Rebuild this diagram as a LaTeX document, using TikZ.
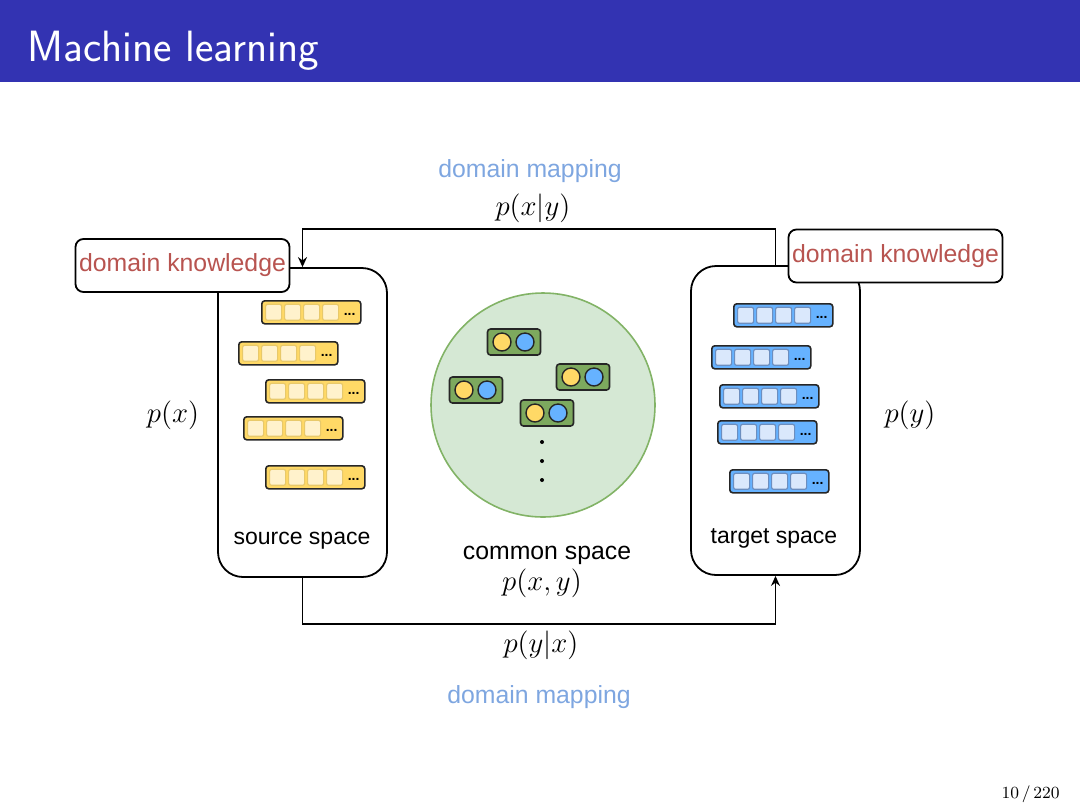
\documentclass[tikz,border=0pt]{standalone}
\usepackage{fontspec}
\usepackage{amsmath}
\newfontfamily\arial{Liberation Sans}
\usetikzlibrary{positioning}
\usetikzlibrary{arrows.meta}
\definecolor{beamerblue}{RGB}{51,51,178}
\definecolor{knowred}{HTML}{B85450}
\definecolor{mapblue}{HTML}{7EA6E0}
\definecolor{commonfill}{HTML}{D5E8D4}
\definecolor{commondraw}{HTML}{82B366}
\definecolor{pairgreen}{HTML}{7DA95E}
\definecolor{tokyellow}{HTML}{FFD966}
\definecolor{sqyellow}{HTML}{FFF2CC}
\definecolor{sqyellowdraw}{HTML}{E8C96A}
\definecolor{tokblue}{HTML}{66B2FF}
\definecolor{sqblue}{HTML}{DAE8FC}
\definecolor{sqbluedraw}{HTML}{6C8EBF}
\tikzset {
  % one unit = one pixel of the slide
  x=0.5pt, y=-0.5pt,
  % the two spaces
  space/.style={draw, line width=0.9pt, rounded corners=12.5pt, minimum width=84.5pt, minimum height=154.5pt},
  know/.style={draw, fill=white, line width=0.9pt, rounded corners=4pt, minimum width=107pt, minimum height=26.5pt,
    inner sep=0pt, text=knowred, font=\arial\fontsize{12.4}{14}\selectfont},
  lbl/.style={font=\arial\fontsize{11.5}{13}\selectfont},
  biglbl/.style={font=\arial\fontsize{12.4}{14}\selectfont},
  maplbl/.style={biglbl, text=mapblue},
  prob/.style={font=\fontsize{13.8}{16}\selectfont},
  link/.style={draw, line width=0.75pt},
  % token bars
  bar/.style={draw=black!85, line width=0.8pt, rounded corners=1.5pt, minimum width=49.5pt, minimum height=11.5pt, inner sep=0pt},
  ybar/.style={fill=tokyellow},
  bbar/.style={fill=tokblue},
  ysq/.style={draw=sqyellowdraw, fill=sqyellow, line width=0.6pt, rounded corners=1pt, minimum size=8pt, inner sep=0pt},
  bsq/.style={draw=sqbluedraw, fill=sqblue, line width=0.6pt, rounded corners=1pt, minimum size=8pt, inner sep=0pt},
  dots/.style={inner sep=0pt, font=\arial\bfseries\fontsize{7}{7}\selectfont},
  % pairs in the common space
  pairbox/.style={draw=black!85, fill=pairgreen, line width=0.8pt, rounded corners=1.5pt, minimum width=26.5pt, minimum height=13pt, inner sep=0pt},
  ycirc/.style={circle, draw=black!85, fill=tokyellow, line width=0.7pt, minimum size=9pt, inner sep=0pt},
  bcirc/.style={circle, draw=black!85, fill=tokblue, line width=0.7pt, minimum size=9pt, inner sep=0pt},
}
% token bar: name, left, top, y/b
\newcommand{\tokbar}[4]{
  \node[bar, #4bar, anchor=north west] (#1) at (#2,#3) {};
  \foreach \i in {0,...,3}
    \node[#4sq, anchor=west] at ([xshift={2pt+\i*9.5pt}]#1.west) {};
  \node[dots] at ([xshift=-6pt, yshift=-1pt]#1.east) {...};
}
% pair of circles: name, centre x, centre y
\newcommand{\pairnode}[3]{
  \node[pairbox] (#1) at (#2,#3) {};
  \node[ycirc] at ([xshift=-6pt]#1.center) {};
  \node[bcirc] at ([xshift=5.5pt]#1.center) {};
}

\begin{document}
\begin{tikzpicture}
  \useasboundingbox (0,0) rectangle (1080,810);
  % title bar
  \fill[beamerblue] (0,0) rectangle (1080,82);
  \node[anchor=base west, text=white, inner sep=0pt, font=\sffamily\fontsize{21.9}{26}\selectfont] (title) at (27,61) {Machine learning};
  \node[anchor=base east, inner sep=0pt, font=\fontsize{8.5}{10}\selectfont] (page) at (1060,798) {10\,/\,220};

  % spaces
  \node[space] (src) at (302.5,422.5) {};
  \node[space] (tgt) at (775.5,420.5) {};
  \node[lbl] (srclbl) at (302,541) {source space};
  \node[lbl] (tgtlbl) at (774,538) {target space};

  % common space
  \node[circle, draw=commondraw, fill=commonfill, line width=0.8pt, minimum size=112pt] (common) at (543,405) {};
  \pairnode{p1}{514}{342}
  \pairnode{p2}{583}{377}
  \pairnode{p3}{476}{390}
  \pairnode{p4}{547}{413}
  \foreach \y in {442,461,480}
    \fill (542,\y) circle (1pt);
  \node[biglbl] (comlbl) at (547,555) {common space};
  \node[prob] (pxy) at (542,583) {$p(x,y)$};

  % source tokens
  \tokbar{s1}{261}{300}{y}
  \tokbar{s2}{238}{341}{y}
  \tokbar{s3}{265}{379}{y}
  \tokbar{s4}{243}{416}{y}
  \tokbar{s5}{265}{465}{y}
  % target tokens
  \tokbar{t1}{733}{303}{b}
  \tokbar{t2}{711}{345}{b}
  \tokbar{t3}{719}{384}{b}
  \tokbar{t4}{717}{420}{b}
  \tokbar{t5}{729}{469}{b}

  % mappings
  \draw[link, -{Stealth[length=5pt, width=4.5pt]}] (tgt.north) -- ++(0,-36) -| (src.north);
  \draw[link, -{Stealth[length=5pt, width=4.5pt]}] (src.south) -- ++(0,46) -| (tgt.south);

  % domain knowledge
  \node[know] (kl) at (182.5,265.5) {domain knowledge};
  \node[know] (kr) at (895.5,256) {domain knowledge};

  \node[prob] (px) at (173,415) {$p(x)$};
  \node[prob] (py) at (910,415) {$p(y)$};
  \node[prob] (pxgy) at (533,208) {$p(x|y)$};
  \node[maplbl] (maptop) at (530,171) {domain mapping};
  \node[prob] (pygx) at (541,645) {$p(y|x)$};
  \node[maplbl] (mapbot) at (539,697) {domain mapping};
\end{tikzpicture}
\end{document}
